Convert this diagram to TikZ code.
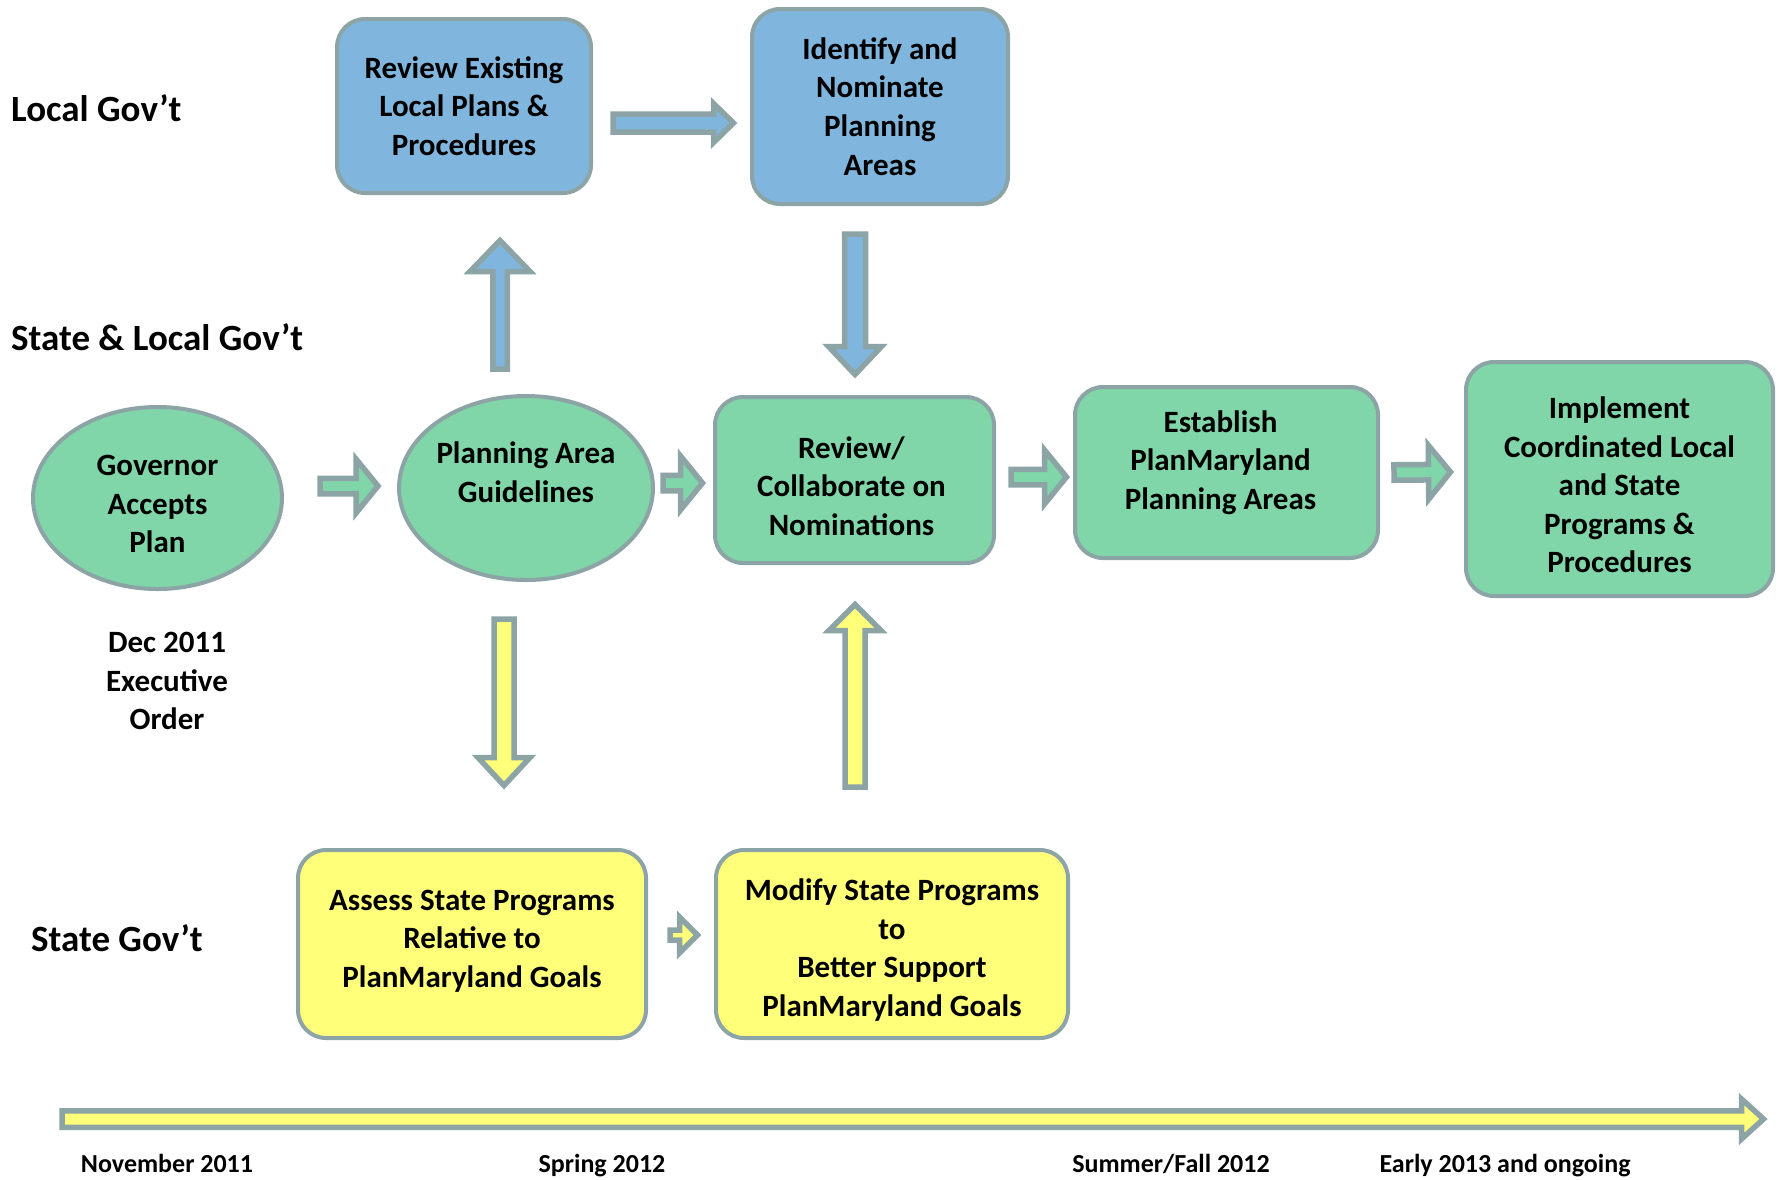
\documentclass[tikz,border=0pt]{standalone}
\usepackage{fontspec}
\setmainfont{Carlito}
\usetikzlibrary{calc,shapes.geometric}
\definecolor{edge}{RGB}{140,164,166}
\definecolor{cblue}{RGB}{128,182,221}
\definecolor{cgreen}{RGB}{128,214,168}
\definecolor{cyellow}{RGB}{255,255,122}
\newcommand{\blockarr}[6]{%
  \coordinate (bH) at ($(#2)!#5pt!(#1)$);
  \filldraw[fill=#6, draw=edge, line width=5.5pt, line join=miter]
    ($(#1)!#3pt!90:(#2)$) -- ($(bH)!#3pt!90:(#2)$) -- ($(bH)!#4pt!90:(#2)$) -- (#2)
    -- ($(bH)!#4pt!-90:(#2)$) -- ($(bH)!#3pt!-90:(#2)$) -- ($(#1)!#3pt!-90:(#2)$) -- cycle;}
\begin{document}
\begin{tikzpicture}[x=1pt,y=-1pt,
  box/.style={draw=edge, line width=4pt, rounded corners=28pt, inner sep=0pt},
  ell/.style={ellipse, draw=edge, line width=4pt, inner sep=0pt},
  txt/.style={align=center, inner sep=0pt, font=\bfseries\fontsize{31}{38.6}\selectfont},
  lab/.style={anchor=west, inner sep=0pt, font=\bfseries\fontsize{37}{44}\selectfont},
  tlab/.style={anchor=base, inner sep=0pt, font=\bfseries\fontsize{26}{30}\selectfont}]
\useasboundingbox (0,0) rectangle (1779,1179);

% row labels
\node[lab] (l1) at (11,108) {Local Gov’t};
\node[lab] (l2) at (11,337) {State \& Local Gov’t};
\node[lab] (l3) at (31,938) {State Gov’t};

% shapes
\node[box, fill=cblue, minimum width=254pt, minimum height=174pt] (rev) at (464,106) {};
\node[box, fill=cblue, minimum width=256pt, minimum height=195pt] (idn) at (880,106.5) {};
\node[ell, fill=cgreen, minimum width=249pt, minimum height=182pt] (gov) at (157.5,498) {};
\node[ell, fill=cgreen, minimum width=254pt, minimum height=184pt] (pag) at (526,488) {};
\node[box, fill=cgreen, minimum width=279pt, minimum height=166pt] (col) at (854.5,480) {};
\node[box, fill=cgreen, minimum width=303pt, minimum height=171pt] (est) at (1226.5,472.5) {};
\node[box, fill=cgreen, minimum width=307pt, minimum height=234pt] (imp) at (1619.5,479) {};
\node[box, fill=cyellow, minimum width=348pt, minimum height=188pt] (ass) at (472,944) {};
\node[box, fill=cyellow, minimum width=352pt, minimum height=188pt] (mod) at (892,944) {};

% texts in shapes
\node[txt] (revt) at (rev.center) {Review Existing\\Local Plans \&\\Procedures};
\node[txt] (idnt) at (idn.center) {Identify and\\Nominate\\Planning\\Areas};
\node[txt] (govt) at ([yshift=-6pt]gov.center) {Governor\\Accepts\\Plan};
\node[txt] (pagt) at ([yshift=16pt]pag.center) {Planning Area\\Guidelines};
\node[txt] (colt) at ([xshift=-3pt,yshift=-6pt]col.center) {Review/\\Collaborate on\\Nominations};
\node[txt] (estt) at ([xshift=-6pt,yshift=10pt]est.center) {Establish\\PlanMaryland\\Planning Areas};
\node[txt] (impt) at ([yshift=-6pt]imp.center) {Implement\\Coordinated Local\\and State\\Programs \&\\Procedures};
\node[txt] (asst) at ([yshift=3pt]ass.center) {Assess State Programs\\Relative to\\PlanMaryland Goals};
\node[txt] (modt) at ([yshift=-6pt]mod.center) {Modify State Programs\\to\\Better Support\\PlanMaryland Goals};

\node[txt] (eo) at (167,681) {Dec 2011\\Executive\\Order};

% connectors
\coordinate (a1s) at ($(rev.east)+(20,17)$);  \coordinate (a1e) at ($(idn.west)+(-16.5,16.5)$);
\blockarr{a1s}{a1e}{9}{19.5}{20}{cblue}
\coordinate (a2s) at ($(pag.north)+(-26,-25)$); \coordinate (a2e) at ($(rev.south)+(36,45.5)$);
\blockarr{a2s}{a2e}{7.25}{30}{31}{cblue}
\coordinate (a3s) at ($(idn.south)+(-25,28)$); \coordinate (a3e) at ($(col.north)+(0.5,-20.5)$);
\blockarr{a3s}{a3e}{10.5}{26.5}{28}{cblue}
\coordinate (a4s) at ($(pag.south)+(-22,37)$); \coordinate (a4e) at ($(ass.north)+(32,-62.5)$);
\blockarr{a4s}{a4e}{10}{26}{28}{cyellow}
\coordinate (a5s) at ($(mod.north)+(-37,-61)$); \coordinate (a5e) at ($(col.south)+(0.5,39.5)$);
\blockarr{a5s}{a5e}{10}{26}{26}{cyellow}
\coordinate (a6s) at ($(gov.east)+(36,-12)$); \coordinate (a6e) at ($(pag.west)+(-19,-2)$);
\blockarr{a6s}{a6e}{7.75}{27}{22}{cgreen}
\coordinate (a7s) at ($(pag.east)+(8,-5)$); \coordinate (a7e) at ($(col.west)+(-10.5,3)$);
\blockarr{a7s}{a7e}{7.75}{27}{22}{cgreen}
\coordinate (a8s) at ($(col.east)+(15,-3)$); \coordinate (a8e) at ($(est.west)+(-6.5,4.5)$);
\blockarr{a8s}{a8e}{7.75}{27}{22}{cgreen}
\coordinate (a9s) at ($(est.east)+(14,0)$); \coordinate (a9e) at ($(imp.west)+(-13.5,-7)$);
\blockarr{a9s}{a9e}{7.75}{27}{22}{cgreen}
\coordinate (a10s) at ($(ass.east)+(22,-9)$); \coordinate (a10e) at ($(mod.west)+(-16.5,-9)$);
\blockarr{a10s}{a10e}{5}{18}{18}{cyellow}

% timeline
\coordinate (tl0) at (62,1119); \coordinate (tl1) at (1763.5,1119);
\blockarr{tl0}{tl1}{8.25}{20}{22}{cyellow}
\node[tlab] (t1) at (167,1172) {November 2011};
\node[tlab] (t2) at (602,1172) {Spring 2012};
\node[tlab] (t3) at (1171,1172) {Summer/Fall 2012};
\node[tlab] (t4) at (1505,1172) {Early 2013 and ongoing};
\end{tikzpicture}
\end{document}
